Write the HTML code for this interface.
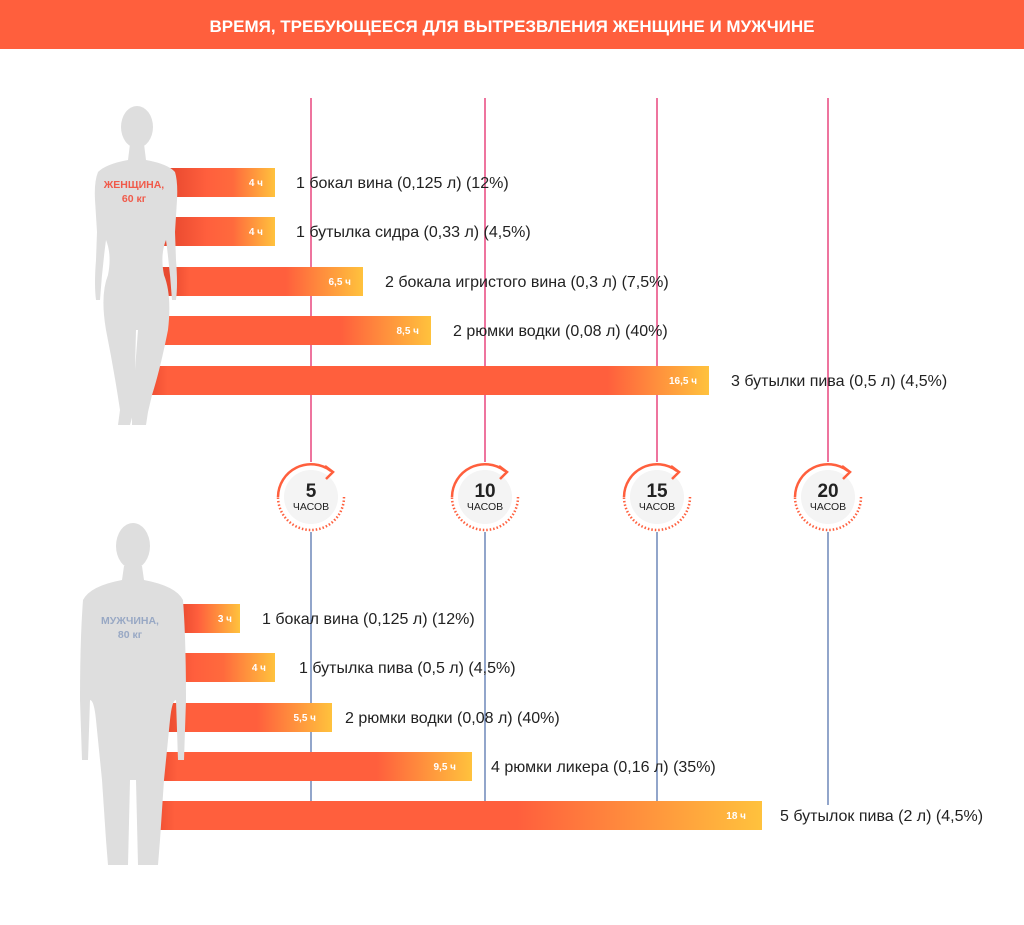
<!DOCTYPE html>
<html><head><meta charset="utf-8"><style>
body{margin:0;background:#fff;font-family:"Liberation Sans",sans-serif}
</style></head><body>
<svg width="1024" height="920" viewBox="0 0 1024 920" xmlns="http://www.w3.org/2000/svg" font-family="Liberation Sans, sans-serif">
<rect x="0" y="0" width="1024" height="49" fill="#ff5f3d"/>
<text x="512" y="32" text-anchor="middle" fill="#fff" font-weight="bold" font-size="17">ВРЕМЯ, ТРЕБУЮЩЕЕСЯ ДЛЯ ВЫТРЕЗВЛЕНИЯ ЖЕНЩИНЕ И МУЖЧИНЕ</text>

<g stroke="#e8467f" stroke-width="1.5">
<line x1="311" y1="98" x2="311" y2="462"/><line x1="485" y1="98" x2="485" y2="462"/><line x1="657" y1="98" x2="657" y2="462"/><line x1="828" y1="98" x2="828" y2="462"/>
</g>
<g stroke="#4a6aa8" stroke-width="1.2">
<line x1="311" y1="532" x2="311" y2="802"/><line x1="485" y1="532" x2="485" y2="802"/><line x1="657" y1="532" x2="657" y2="802"/><line x1="828" y1="532" x2="828" y2="805"/>
</g>

<defs>
<linearGradient id="w1" gradientUnits="userSpaceOnUse" x1="170" x2="275"><stop offset="0" stop-color="#e8492f"/><stop offset="0.35" stop-color="#ff5f3d"/><stop offset="0.6" stop-color="#ff6a3d"/><stop offset="1" stop-color="#ffc23d"/></linearGradient>
<linearGradient id="w3" gradientUnits="userSpaceOnUse" x1="170" x2="363"><stop offset="0" stop-color="#e8492f"/><stop offset="0.1" stop-color="#ff5f3d"/><stop offset="0.6" stop-color="#ff5f3d"/><stop offset="1" stop-color="#ffc23d"/></linearGradient>
<linearGradient id="w4" gradientUnits="userSpaceOnUse" x1="150" x2="431"><stop offset="0" stop-color="#e8492f"/><stop offset="0.07" stop-color="#ff5f3d"/><stop offset="0.68" stop-color="#ff5f3d"/><stop offset="1" stop-color="#ffc23d"/></linearGradient>
<linearGradient id="w5" gradientUnits="userSpaceOnUse" x1="145" x2="709"><stop offset="0" stop-color="#e8492f"/><stop offset="0.04" stop-color="#ff5f3d"/><stop offset="0.82" stop-color="#ff5f3d"/><stop offset="1" stop-color="#ffc23d"/></linearGradient>
<linearGradient id="m1" gradientUnits="userSpaceOnUse" x1="180" x2="240"><stop offset="0" stop-color="#e8492f"/><stop offset="0.3" stop-color="#ff5f3d"/><stop offset="1" stop-color="#ffc23d"/></linearGradient>
<linearGradient id="m2" gradientUnits="userSpaceOnUse" x1="160" x2="275"><stop offset="0" stop-color="#e8492f"/><stop offset="0.3" stop-color="#ff5f3d"/><stop offset="0.55" stop-color="#ff6a3d"/><stop offset="1" stop-color="#ffc23d"/></linearGradient>
<linearGradient id="m3" gradientUnits="userSpaceOnUse" x1="165" x2="332"><stop offset="0" stop-color="#e8492f"/><stop offset="0.15" stop-color="#ff5f3d"/><stop offset="0.55" stop-color="#ff5f3d"/><stop offset="1" stop-color="#ffc23d"/></linearGradient>
<linearGradient id="m4" gradientUnits="userSpaceOnUse" x1="155" x2="472"><stop offset="0" stop-color="#e8492f"/><stop offset="0.07" stop-color="#ff5f3d"/><stop offset="0.7" stop-color="#ff5f3d"/><stop offset="1" stop-color="#ffc23d"/></linearGradient>
<linearGradient id="m5" gradientUnits="userSpaceOnUse" x1="150" x2="762"><stop offset="0" stop-color="#e8492f"/><stop offset="0.04" stop-color="#ff5f3d"/><stop offset="0.6" stop-color="#ff5f3d"/><stop offset="1" stop-color="#ffc23d"/></linearGradient>
</defs>
<rect x="160" y="168" width="115" height="29" fill="url(#w1)"/>
<rect x="150" y="217" width="125" height="29" fill="url(#w1)"/>
<rect x="160" y="267" width="203" height="29" fill="url(#w3)"/>
<rect x="145" y="316" width="286" height="29" fill="url(#w4)"/>
<rect x="140" y="366" width="569" height="29" fill="url(#w5)"/>

<rect x="170" y="604" width="70" height="29" fill="url(#m1)"/>
<rect x="155" y="653" width="120" height="29" fill="url(#m2)"/>
<rect x="160" y="703" width="172" height="29" fill="url(#m3)"/>
<rect x="150" y="752" width="322" height="29" fill="url(#m4)"/>
<rect x="145" y="801" width="617" height="29" fill="url(#m5)"/>

<!-- woman silhouette -->
<g fill="#dedede">
<ellipse cx="137" cy="127" rx="16" ry="21"/>
<path d="M130 144 L144 144 L146 160 Q168 164 175 172 Q178 182 177 200 L175 232 L176 260 Q178 285 176 300 L172 300 Q170 270 166 240 Q160 255 164 275 Q172 295 168 330 Q160 370 152 395 L148 412 L146 425 L132 425 L132 410 L138 330 L136 330 L134 410 L130 425 L118 425 L120 410 Q114 370 106 330 Q100 295 108 275 Q112 255 106 240 Q102 270 100 300 L96 300 Q94 285 96 260 L97 232 L95 200 Q94 182 98 172 Q106 164 128 160 Z"/>
</g>
<!-- man silhouette -->
<g fill="#dedede">
<ellipse cx="133" cy="546" rx="17" ry="23"/>
<path d="M124 566 L142 566 L144 580 Q176 586 183 600 Q186 640 186 700 L184 760 L178 760 L176 700 Q172 700 170 720 L164 780 L160 840 L158 865 L138 865 L136 780 L130 780 L128 865 L108 865 L106 840 L102 780 L96 720 Q94 700 90 700 L88 760 L82 760 L80 700 Q80 640 83 600 Q90 586 122 580 Z"/>
</g>

<g fill="#fff" font-size="10" font-weight="bold" text-anchor="end">
<text x="263" y="186">4 ч</text><text x="263" y="235">4 ч</text><text x="351" y="285">6,5 ч</text><text x="419" y="334">8,5 ч</text><text x="697" y="384">16,5 ч</text>
<text x="232" y="622">3 ч</text><text x="266" y="671">4 ч</text><text x="316" y="721">5,5 ч</text><text x="456" y="770">9,5 ч</text><text x="746" y="819">18 ч</text>
</g>
<g fill="#222" font-size="16">
<text x="296" y="188">1 бокал вина (0,125 л) (12%)</text>
<text x="296" y="237">1 бутылка сидра (0,33 л) (4,5%)</text>
<text x="385" y="287">2 бокала игристого вина (0,3 л) (7,5%)</text>
<text x="453" y="336">2 рюмки водки (0,08 л) (40%)</text>
<text x="731" y="386">3 бутылки пива (0,5 л) (4,5%)</text>
<text x="262" y="624">1 бокал вина (0,125 л) (12%)</text>
<text x="299" y="673">1 бутылка пива (0,5 л) (4,5%)</text>
<text x="345" y="723">2 рюмки водки (0,08 л) (40%)</text>
<text x="491" y="772">4 рюмки ликера (0,16 л) (35%)</text>
<text x="780" y="821">5 бутылок пива (2 л) (4,5%)</text>
</g>
<g font-weight="bold" font-size="10.5" text-anchor="middle">
<text x="134" y="188" fill="#f05a4a">ЖЕНЩИНА,</text><text x="134" y="202" fill="#f05a4a">60 кг</text>
<text x="130" y="624" fill="#98a8c4">МУЖЧИНА,</text><text x="130" y="638" fill="#98a8c4">80 кг</text>
</g>

<!-- clocks -->
<g transform="translate(311,497)">
<circle r="27" fill="#f4f4f4"/>
<path d="M -33 0 A 33 33 0 0 1 20 -26" fill="none" stroke="#ff5f3d" stroke-width="2.5"/>
<path d="M 14 -31 L 22 -25 L 15 -18" fill="none" stroke="#ff5f3d" stroke-width="2.5"/>
<path d="M 33 0 A 33 33 0 0 1 -33 0" fill="none" stroke="#ff5f3d" stroke-width="2.5" stroke-dasharray="1.5 2"/>
<text y="0" text-anchor="middle" font-weight="bold" font-size="19" fill="#222">5</text>
<text y="13" text-anchor="middle" font-size="10.5" fill="#222">ЧАСОВ</text>
</g>
<g transform="translate(485,497)">
<circle r="27" fill="#f4f4f4"/>
<path d="M -33 0 A 33 33 0 0 1 20 -26" fill="none" stroke="#ff5f3d" stroke-width="2.5"/>
<path d="M 14 -31 L 22 -25 L 15 -18" fill="none" stroke="#ff5f3d" stroke-width="2.5"/>
<path d="M 33 0 A 33 33 0 0 1 -33 0" fill="none" stroke="#ff5f3d" stroke-width="2.5" stroke-dasharray="1.5 2"/>
<text y="0" text-anchor="middle" font-weight="bold" font-size="19" fill="#222">10</text>
<text y="13" text-anchor="middle" font-size="10.5" fill="#222">ЧАСОВ</text>
</g>
<g transform="translate(657,497)">
<circle r="27" fill="#f4f4f4"/>
<path d="M -33 0 A 33 33 0 0 1 20 -26" fill="none" stroke="#ff5f3d" stroke-width="2.5"/>
<path d="M 14 -31 L 22 -25 L 15 -18" fill="none" stroke="#ff5f3d" stroke-width="2.5"/>
<path d="M 33 0 A 33 33 0 0 1 -33 0" fill="none" stroke="#ff5f3d" stroke-width="2.5" stroke-dasharray="1.5 2"/>
<text y="0" text-anchor="middle" font-weight="bold" font-size="19" fill="#222">15</text>
<text y="13" text-anchor="middle" font-size="10.5" fill="#222">ЧАСОВ</text>
</g>
<g transform="translate(828,497)">
<circle r="27" fill="#f4f4f4"/>
<path d="M -33 0 A 33 33 0 0 1 20 -26" fill="none" stroke="#ff5f3d" stroke-width="2.5"/>
<path d="M 14 -31 L 22 -25 L 15 -18" fill="none" stroke="#ff5f3d" stroke-width="2.5"/>
<path d="M 33 0 A 33 33 0 0 1 -33 0" fill="none" stroke="#ff5f3d" stroke-width="2.5" stroke-dasharray="1.5 2"/>
<text y="0" text-anchor="middle" font-weight="bold" font-size="19" fill="#222">20</text>
<text y="13" text-anchor="middle" font-size="10.5" fill="#222">ЧАСОВ</text>
</g>
</svg>
</body></html>
